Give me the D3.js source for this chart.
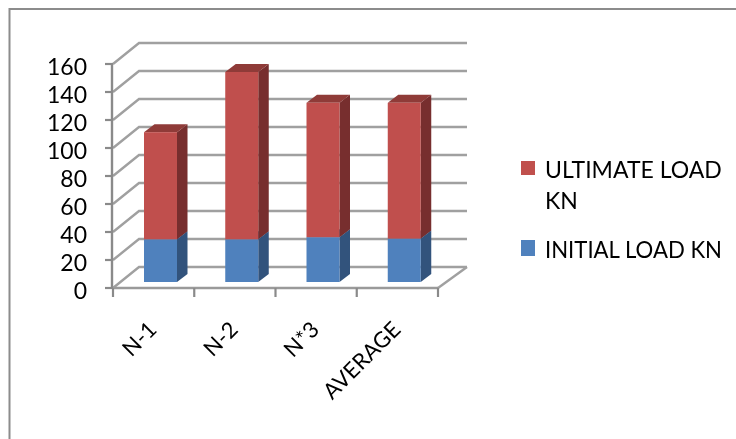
<!DOCTYPE html>
<html>
<head>
<meta charset="utf-8">
<script src="https://cdn.jsdelivr.net/npm/d3@7/dist/d3.min.js"></script>
<style>
html,body{margin:0;padding:0;background:#fff;}
svg{display:block;}
text{font-family:Lato,"Open Sans",sans-serif;fill:#000;}
</style>
</head>
<body>
<script>
const categories = ["N-1", "N-2", "N*3", "AVERAGE"];
const initialLoad = [30.5, 30.5, 32, 31];
const ultimateLoad = [76.5, 119.5, 96, 97];
const yTicks = [0, 20, 40, 60, 80, 100, 120, 140, 160];
const legendLabels = [["ULTIMATE LOAD", "KN"], ["INITIAL LOAD KN"]];
const colors = {
  ultimate: {front: "#c0504d", top: "#8f3a38", side: "#772f2d"},
  initial: {front: "#4f81bd", top: "#3a6190", side: "#30527c"}
};

const W = 736, H = 439;
const svg = d3.select("body").append("svg").attr("width", W).attr("height", H);
const defs = svg.append("defs");
defs.append("filter").attr("id", "soft").attr("x", "-10%").attr("y", "-10%").attr("width", "120%").attr("height", "120%")
  .append("feGaussianBlur").attr("stdDeviation", 0.7);
defs.append("filter").attr("id", "softText")
  .append("feGaussianBlur").attr("stdDeviation", 0.25);

// frame
svg.append("path").attr("d", `M${W},9 H9.5 V${H}`).attr("fill", "none")
  .attr("stroke", "#8c8c8c").attr("stroke-width", 2);

const x = d3.scaleBand().domain(categories).range([113, 438]).paddingInner(0).paddingOuter(0);
const y = d3.scaleLinear().domain([0, 160]).range([288, 64]);
const depth = {dx: 26, dy: -21};
const barW = 33, barDepth = {dx: 10.5, dy: -8}, barShift = {dx: 31, dy: -6};

const chart = svg.append("g").attr("filter", "url(#soft)");
const gridColor = "#a0a0a0";

// back-wall gridlines and left-wall diagonals
chart.selectAll(".grid").data(yTicks).join("path").attr("class", "grid")
  .attr("d", v => `M${x.range()[0]},${y(v)} L${x.range()[0] + depth.dx},${y(v) + depth.dy} H${x.range()[1] + depth.dx + 3}`)
  .attr("fill", "none").attr("stroke", gridColor).attr("stroke-width", 2.4);

// floor right edge
chart.append("path")
  .attr("d", `M${x.range()[1]},${y(0)} L${x.range()[1] + depth.dx + 3},${y(0) + depth.dy}`)
  .attr("fill", "none").attr("stroke", gridColor).attr("stroke-width", 2.4);

// axis lines and ticks
const axisColor = "#8a8a8a";
chart.append("line").attr("x1", x.range()[0] - 1).attr("x2", x.range()[0] - 1).attr("y1", y(160)).attr("y2", y(0))
  .attr("stroke", axisColor).attr("stroke-width", 2.4);
chart.append("line").attr("x1", x.range()[0] - 1).attr("x2", x.range()[1]).attr("y1", y(0)).attr("y2", y(0))
  .attr("stroke", "#9a9a9a").attr("stroke-width", 2.6);
chart.selectAll(".ytick").data(yTicks).join("line").attr("class", "ytick")
  .attr("x1", x.range()[0] - 8).attr("x2", x.range()[0]).attr("y1", v => y(v)).attr("y2", v => y(v))
  .attr("stroke", axisColor).attr("stroke-width", 2.2);
const xEdges = [...categories.map(c => x(c)), x.range()[1]];
chart.selectAll(".xtick").data(xEdges).join("line").attr("class", "xtick")
  .attr("x1", d => d).attr("x2", d => d).attr("y1", y(0)).attr("y2", y(0) + 9)
  .attr("stroke", axisColor).attr("stroke-width", 2.2);

// stacked 3D bars
function drawBox(cat, v0, v1, c) {
  const x0 = x(cat) + barShift.dx, x1 = x0 + barW;
  const yb = y(v0) + barShift.dy, yt = y(v1) + barShift.dy;
  const g = chart.append("g");
  g.append("path").attr("fill", c.side)
    .attr("d", `M${x1},${yb} L${x1 + barDepth.dx},${yb + barDepth.dy} V${yt + barDepth.dy} L${x1},${yt} Z`);
  g.append("path").attr("fill", c.top)
    .attr("d", `M${x0},${yt} L${x0 + barDepth.dx},${yt + barDepth.dy} H${x1 + barDepth.dx} L${x1},${yt} Z`);
  g.append("rect").attr("x", x0).attr("y", yt).attr("width", barW).attr("height", yb - yt).attr("fill", c.front);
}
categories.forEach((c, i) => {
  drawBox(c, 0, initialLoad[i], colors.initial);
  drawBox(c, initialLoad[i], initialLoad[i] + ultimateLoad[i], colors.ultimate);
});

// labels
const labels = svg.append("g").attr("filter", "url(#softText)");
labels.selectAll(".ylab").data(yTicks).join("text").attr("class", "ylab")
  .attr("x", 87).attr("y", v => y(v) + 10.5).attr("text-anchor", "end")
  .attr("font-size", 23).text(v => v);

labels.selectAll(".xlab").data(categories).join("text").attr("class", "xlab")
  .attr("text-anchor", "end").attr("font-size", 22)
  .attr("transform", c => `translate(${x(c) + x.bandwidth() / 2 + 4.5},${y(0) + 43}) rotate(-45)`)
  .text(c => c);

// legend
const legendSquares = [
  {c: colors.ultimate.front, y: 161, h: 14},
  {c: colors.initial.front, y: 240, h: 16}
];
svg.selectAll(".lsq").data(legendSquares).join("rect").attr("class", "lsq")
  .attr("x", 521).attr("y", d => d.y).attr("width", 14).attr("height", d => d.h).attr("fill", d => d.c);
const lineY = [[178, 209], [258]];
legendLabels.forEach((lines, i) => lines.forEach((t, j) => {
  const el = labels.append("text").attr("x", 545).attr("y", lineY[i][j]).attr("font-size", 23).text(t);
  if (i === 1) el.attr("textLength", 177).attr("lengthAdjust", "spacingAndGlyphs");
}));
</script>
</body>
</html>
